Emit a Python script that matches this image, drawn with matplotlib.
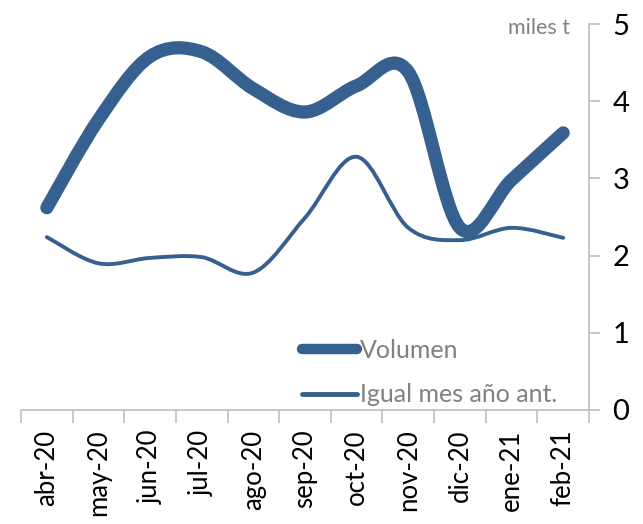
import matplotlib
matplotlib.use("Agg")
import matplotlib.pyplot as plt
from matplotlib.path import Path
from matplotlib.patches import PathPatch
from matplotlib.lines import Line2D
import numpy as np

months = ["abr-20", "may-20", "jun-20", "jul-20", "ago-20", "sep-20",
          "oct-20", "nov-20", "dic-20", "ene-21", "feb-21"]
volumen = [2.62, 3.76, 4.58, 4.64, 4.16, 3.86, 4.2, 4.38, 2.36, 2.98, 3.59]
igual_mes = [2.24, 1.9, 1.97, 1.98, 1.78, 2.49, 3.28, 2.36, 2.2, 2.36, 2.23]

BLUE = "#35608f"
GREY = "#bfbfbf"
TXT = "#808080"
plt.rcParams['font.family'] = ['Lato', 'DejaVu Sans']


def smooth_path(xs, ys):
    # Excel-style smoothed line: cubic bezier through each point
    pts = np.column_stack([xs, ys]).astype(float)
    n = len(pts)
    verts = [pts[0]]
    codes = [Path.MOVETO]
    for i in range(n - 1):
        p0 = pts[i - 1] if i > 0 else pts[i]
        p1, p2 = pts[i], pts[i + 1]
        p3 = pts[i + 2] if i + 2 < n else pts[i + 1]
        c1 = p1 + (p2 - p0) / 6.0
        c2 = p2 - (p3 - p1) / 6.0
        verts += [c1, c2, p2]
        codes += [Path.CURVE4] * 3
    return Path(verts, codes)


fig = plt.figure(figsize=(6.43, 5.24), dpi=100)
ax = fig.add_axes([21 / 643, 1 - 410 / 524, (589 - 21) / 643, (410 - 24) / 524])

x = np.arange(len(months))
ax.add_patch(PathPatch(smooth_path(x, igual_mes), facecolor="none",
                       edgecolor=BLUE, lw=2.8, capstyle="round"))
ax.add_patch(PathPatch(smooth_path(x, volumen), facecolor="none",
                       edgecolor=BLUE, lw=9.5, capstyle="round", joinstyle="round"))

ax.set_xlim(-0.5, len(months) - 0.5)
ax.set_ylim(0, 5)

# y axis on the right
ax.yaxis.tick_right()
ax.set_yticks(range(6))
ax.tick_params(axis="y", which="major", length=8, width=1.2, color=GREY,
               labelsize=21, pad=9, labelcolor="black")

# x ticks: marks between categories, labels at centers
ax.set_xticks(x)
ax.set_xticklabels(months, rotation=90, fontsize=18.5)
ax.tick_params(axis="x", which="major", length=0, pad=14)
ax.set_xticks(np.arange(-0.5, len(months)), minor=True)
ax.tick_params(axis="x", which="minor", length=9, width=1.2, color=GREY)

for s in ["left", "top"]:
    ax.spines[s].set_visible(False)
for s in ["right", "bottom"]:
    ax.spines[s].set_color(GREY)
    ax.spines[s].set_linewidth(1.2)

ax.text(570 / 643, 1 - 18 / 524, "miles t", transform=fig.transFigure,
        ha="right", va="top", fontsize=15.5, color=TXT)

handles = [Line2D([], [], color=BLUE, lw=7.5, solid_capstyle="round"),
           Line2D([], [], color=BLUE, lw=3.5, solid_capstyle="round")]
leg = fig.legend(handles, ["Volumen", "Igual mes año ant."], loc="upper left",
                 bbox_to_anchor=(302 / 643, 1 - 339 / 524), frameon=False,
                 fontsize=18, handlelength=2.2, handletextpad=0.1,
                 labelspacing=0.85, borderpad=0, borderaxespad=0,
                 labelcolor=TXT)

fig.savefig("out.png", dpi=100)
